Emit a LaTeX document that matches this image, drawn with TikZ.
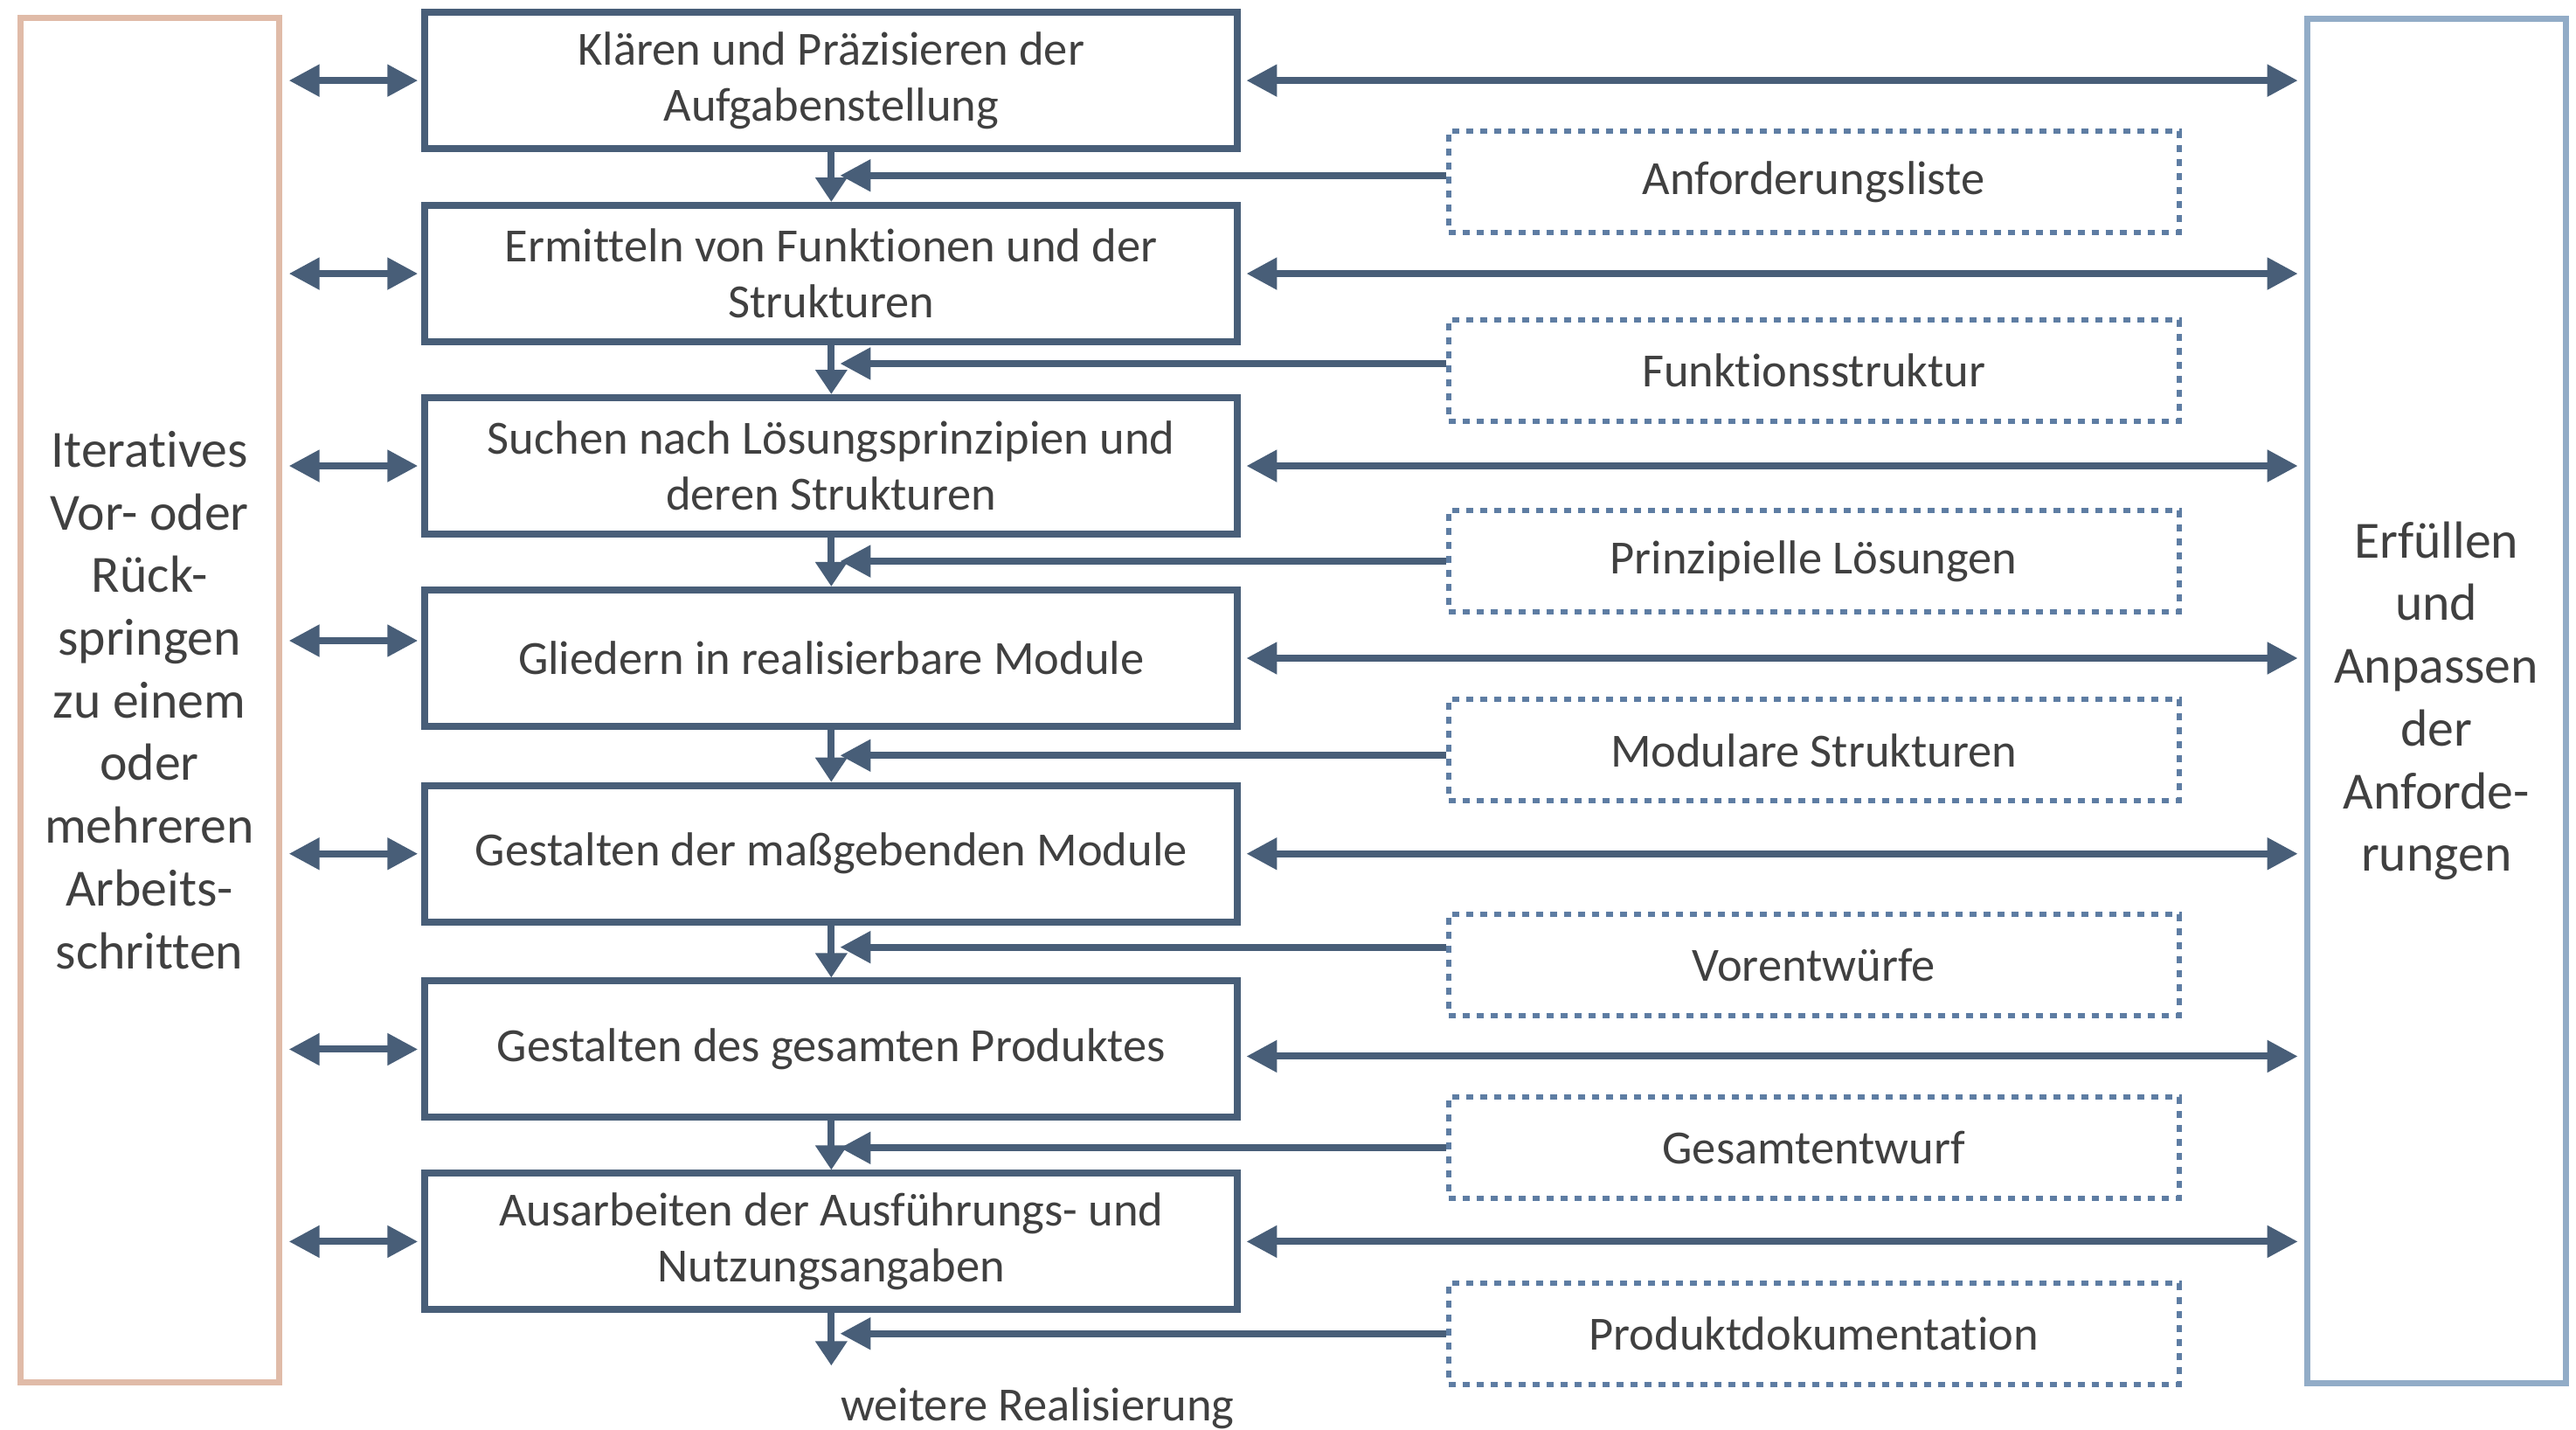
\documentclass[tikz,border=0pt]{standalone}
\usepackage{fontspec}
\setmainfont{Carlito}[Ligatures=NoCommon]
\usetikzlibrary{arrows.meta}

\definecolor{stepblue}{RGB}{72,94,120}
\definecolor{resblue}{RGB}{94,125,163}
\definecolor{iterrose}{RGB}{224,187,168}
\definecolor{anfblue}{RGB}{146,172,199}
\definecolor{textgray}{RGB}{64,64,64}

\begin{document}
\begin{tikzpicture}[x=0.0188cm,y=-0.0188cm,
  stepbox/.style={draw=stepblue,line width=0.08cm,minimum width=9.3cm,minimum height=1.56cm,inner sep=0pt,align=center,text=textgray,font=\fontsize{15.5}{18.2}\selectfont},
  resbox/.style={draw=resblue,line width=0.06cm,dash pattern=on 0.08cm off 0.08cm,minimum width=8.36cm,minimum height=1.16cm,inner sep=0pt,text=textgray,font=\fontsize{15.5}{18.2}\selectfont},
  sidebox/.style={line width=0.07cm,minimum width=2.96cm,minimum height=15.6cm,inner sep=0pt,align=center,text=textgray,font=\fontsize{17}{20.4}\selectfont},
  dblarrow/.style={draw=stepblue,line width=0.08cm,{Triangle[length=0.35cm,width=0.35cm]}-{Triangle[length=0.35cm,width=0.35cm]}},
  downarrow/.style={draw=stepblue,line width=0.08cm,-{Triangle[length=0.28cm,width=0.35cm]}},
  feedarrow/.style={draw=stepblue,line width=0.08cm,-{Triangle[length=0.35cm,width=0.35cm]}}]
\useasboundingbox (0,0) rectangle (1568,870);
\node (s-L) at (91,426) [sidebox,draw=iterrose] {Iteratives\\Vor- oder\\Rück-\\springen\\zu einem\\oder\\mehreren\\Arbeits-\\schritten};
\node (s-R) at (1483,426.5) [sidebox,draw=anfblue] {Erfüllen\\und\\Anpassen\\der\\Anforde-\\rungen};
\node (p-0) at (506,49) [stepbox] {Klären und Präzisieren der\\Aufgabenstellung};
\node (p-1) at (506,166.5) [stepbox] {Ermitteln von Funktionen und der\\Strukturen};
\node (p-2) at (506,283.5) [stepbox] {Suchen nach Lösungsprinzipien und\\deren Strukturen};
\node (p-3) at (506,400.5) [stepbox] {Gliedern in realisierbare Module};
\node (p-4) at (506,519.5) [stepbox] {Gestalten der maßgebenden Module};
\node (p-5) at (506,638.5) [stepbox] {Gestalten des gesamten Produktes};
\node (p-6) at (506,755.5) [stepbox] {Ausarbeiten der Ausführungs- und\\Nutzungsangaben};
\node (e-0) at (1104,110.5) [resbox] {Anforderungsliste};
\node (e-1) at (1104,225.5) [resbox] {Funktionsstruktur};
\node (e-2) at (1104,341.5) [resbox] {Prinzipielle Lösungen};
\node (e-3) at (1104,456.5) [resbox] {Modulare Strukturen};
\node (e-4) at (1104,587) [resbox] {Vorentwürfe};
\node (e-5) at (1104,698.5) [resbox] {Gesamtentwurf};
\node (e-6) at (1104,811.5) [resbox] {Produktdokumentation};
\node (w-0) at (631.5,857) [text=textgray,font=\fontsize{15.5}{18.2}\selectfont] {weitere Realisierung};
\coordinate (w-end) at (506,831);
% links
\draw[dblarrow,shorten <=0.08cm,shorten >=0.04cm] (s-L.east |- p-0.west) -- (p-0.west);
\draw[dblarrow,shorten <=0.08cm,shorten >=0.04cm] (s-L.east |- p-1.west) -- (p-1.west);
\draw[dblarrow,shorten <=0.08cm,shorten >=0.04cm] (s-L.east |- p-2.west) -- (p-2.west);
\draw[dblarrow,shorten <=0.08cm,shorten >=0.04cm] ([yshift=0.2cm]s-L.east |- p-3.west) -- ([yshift=0.2cm]p-3.west);
\draw[dblarrow,shorten <=0.08cm,shorten >=0.04cm] (s-L.east |- p-4.west) -- (p-4.west);
\draw[dblarrow,shorten <=0.08cm,shorten >=0.04cm] (s-L.east |- p-5.west) -- (p-5.west);
\draw[dblarrow,shorten <=0.08cm,shorten >=0.04cm] (s-L.east |- p-6.west) -- (p-6.west);
% rechts
\draw[dblarrow,shorten <=0.06cm,shorten >=0.07cm] (p-0.east) -- (s-R.west |- p-0.east);
\draw[dblarrow,shorten <=0.06cm,shorten >=0.07cm] (p-1.east) -- (s-R.west |- p-1.east);
\draw[dblarrow,shorten <=0.06cm,shorten >=0.07cm] (p-2.east) -- (s-R.west |- p-2.east);
\draw[dblarrow,shorten <=0.06cm,shorten >=0.07cm] (p-3.east) -- (s-R.west |- p-3.east);
\draw[dblarrow,shorten <=0.06cm,shorten >=0.07cm] (p-4.east) -- (s-R.west |- p-4.east);
\draw[dblarrow,shorten <=0.06cm,shorten >=0.07cm] ([yshift=-0.08cm]p-5.east) -- ([yshift=-0.08cm]s-R.west |- p-5.east);
\draw[dblarrow,shorten <=0.06cm,shorten >=0.07cm] (p-6.east) -- (s-R.west |- p-6.east);
% Ablauf
\draw[downarrow] (p-0.south) -- (p-1.north);
\draw[downarrow] (p-1.south) -- (p-2.north);
\draw[downarrow] (p-2.south) -- (p-3.north);
\draw[downarrow] (p-3.south) -- (p-4.north);
\draw[downarrow] (p-4.south) -- (p-5.north);
\draw[downarrow] (p-5.south) -- (p-6.north);
\draw[downarrow] (p-6.south) -- (w-end);
% Ergebnisse
\draw[feedarrow] ([yshift=0.07cm]e-0.west) -- ([xshift=0.1cm,yshift=0.07cm]e-0.west -| p-0.south);
\draw[feedarrow] ([yshift=0.08cm]e-1.west) -- ([xshift=0.1cm,yshift=0.08cm]e-1.west -| p-1.south);
\draw[feedarrow] (e-2.west) -- ([xshift=0.1cm]e-2.west -| p-2.south);
\draw[feedarrow] ([yshift=-0.06cm]e-3.west) -- ([xshift=0.1cm,yshift=-0.06cm]e-3.west -| p-3.south);
\draw[feedarrow] ([yshift=0.2cm]e-4.west) -- ([xshift=0.1cm,yshift=0.2cm]e-4.west -| p-4.south);
\draw[feedarrow] (e-5.west) -- ([xshift=0.1cm]e-5.west -| p-5.south);
\draw[feedarrow] (e-6.west) -- ([xshift=0.1cm]e-6.west -| p-6.south);
\end{tikzpicture}
\end{document}
